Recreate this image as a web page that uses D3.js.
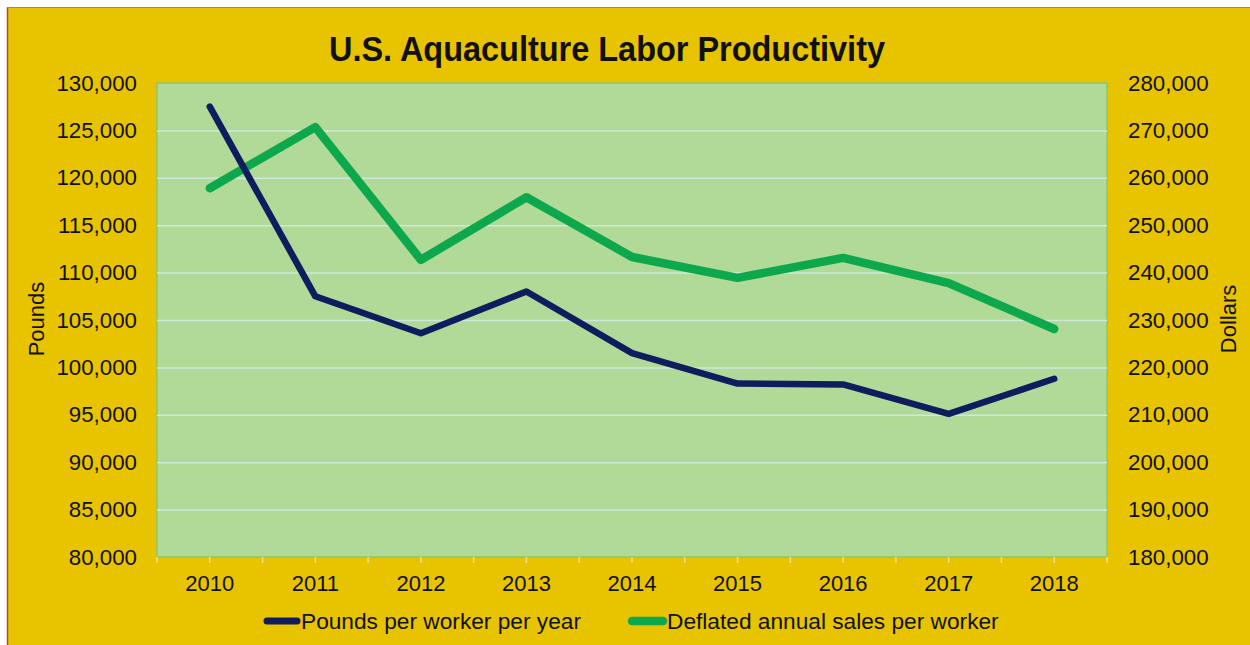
<!DOCTYPE html>
<html>
<head>
<meta charset="utf-8">
<script src="https://cdn.jsdelivr.net/npm/d3@7"></script>
<style>
  body { margin: 0; background: #ffffff; }
  text { font-family: 'Liberation Sans', Arial, sans-serif; fill: #111111; }
</style>
</head>
<body>
<div class="chart"></div>
<script>
// chart values
var years = ['2010', '2011', '2012', '2013', '2014', '2015', '2016', '2017', '2018']
var poundsPerWorker = [127500, 107500, 103600, 108000, 101500, 98300, 98200, 95100, 98800]
var salesPerWorker = [257800, 270700, 242700, 255900, 243300, 238900, 243100, 237800, 228100]
var poundsTicks = [80000, 85000, 90000, 95000, 100000, 105000, 110000, 115000, 120000, 125000, 130000]
var dollarTicks = [180000, 190000, 200000, 210000, 220000, 230000, 240000, 250000, 260000, 270000, 280000]
var seriesNames = ['Pounds per worker per year', 'Deflated annual sales per worker']

var fullWidth = 1250, fullHeight = 645
var margin = {top: 83, right: 143, bottom: 88, left: 157},
width = fullWidth - margin.left - margin.right,
height = fullHeight - margin.top - margin.bottom;

var navy = '#0f1d5e', green = '#0da84b'
var labelFont = "'Liberation Sans', Arial, sans-serif"

var root = d3.select('.chart')
  .append('svg')
    .attr('width', fullWidth)
    .attr('height', fullHeight)

// yellow background with the thin white strip and red edge of the original frame
root.append('rect').attr('x', 0).attr('y', 0).attr('width', fullWidth).attr('height', fullHeight).attr('fill', '#ffffff')
root.append('rect').attr('x', 7).attr('y', 7).attr('width', fullWidth - 7).attr('height', fullHeight - 7).attr('fill', '#e8c300')
root.append('line').attr('x1', 7.5).attr('x2', 7.5).attr('y1', 7).attr('y2', fullHeight).attr('stroke', '#c0442a').attr('stroke-width', 1.5)
root.append('line').attr('x1', 7).attr('x2', fullWidth).attr('y1', 7.5).attr('y2', 7.5).attr('stroke', '#d9782a').attr('stroke-width', 1)

var svg = root.append('g')
  .attr('transform', 'translate(' + margin.left + ',' + margin.top + ')');

var x = d3.scaleBand()
  .domain(years)
  .range([0, width])
  .paddingInner(0)
  .paddingOuter(0);

var yLeft = d3.scaleLinear()
  .domain([d3.min(poundsTicks), d3.max(poundsTicks)])
  .range([height, 0]);

var yRight = d3.scaleLinear()
  .domain([d3.min(dollarTicks), d3.max(dollarTicks)])
  .range([height, 0]);

// plot area
svg.append('rect')
  .attr('x', 0).attr('y', 0)
  .attr('width', width).attr('height', height)
  .attr('fill', '#b1d998')
  .attr('stroke', '#8cc66a')
  .attr('stroke-width', 1.5)

// gridlines
svg.append('g')
  .attr('class', 'grid')
  .call(d3.axisLeft(yLeft).tickValues(poundsTicks.slice(1, -1)).tickSize(-width).tickFormat(''))
  .call(g => g.select('.domain').remove())
  .call(g => g.selectAll('line').attr('stroke', '#cfe8dc').attr('stroke-width', 1.5))

// left axis
svg.append('g')
  .call(d3.axisLeft(yLeft).tickValues(poundsTicks).tickSize(0).tickPadding(20).tickFormat(d3.format(',')))
  .call(g => g.select('.domain').remove())
  .call(g => g.selectAll('text').style('font-size', '22.3px').style('font-family', labelFont).attr('fill', '#111'))

// right axis
svg.append('g')
  .attr('transform', 'translate(' + width + ',0)')
  .call(d3.axisRight(yRight).tickValues(dollarTicks).tickSize(0).tickPadding(21).tickFormat(d3.format(',')))
  .call(g => g.select('.domain').remove())
  .call(g => g.selectAll('text').style('font-size', '22.3px').style('font-family', labelFont).attr('fill', '#111'))

// bottom axis: labels at category centres, short pale ticks at centres and boundaries
svg.append('g')
  .attr('transform', 'translate(0,' + height + ')')
  .call(d3.axisBottom(x).tickSize(6).tickPadding(12))
  .call(g => g.select('.domain').remove())
  .call(g => g.selectAll('line').attr('stroke', '#f2e08a').attr('stroke-width', 1.5))
  .call(g => g.selectAll('text').style('font-size', '22px').style('font-family', labelFont).attr('fill', '#111'))

svg.append('g')
  .selectAll('line')
  .data(years.concat(['end']))
  .enter().append('line')
    .attr('x1', function(d) { return d == 'end' ? width : x(d) })
    .attr('x2', function(d) { return d == 'end' ? width : x(d) })
    .attr('y1', height)
    .attr('y2', height + 6)
    .attr('stroke', '#f2e08a')
    .attr('stroke-width', 1.5)

var cx = function(d, i) { return x(years[i]) + x.bandwidth() / 2 }

// the two lines
svg.append('path')
  .datum(salesPerWorker)
  .attr('fill', 'none')
  .attr('stroke', green)
  .attr('stroke-width', 8.5)
  .attr('stroke-linecap', 'round')
  .attr('stroke-linejoin', 'round')
  .attr('d', d3.line().x(cx).y(function(d) { return yRight(d) }))

svg.append('path')
  .datum(poundsPerWorker)
  .attr('fill', 'none')
  .attr('stroke', navy)
  .attr('stroke-width', 6.5)
  .attr('stroke-linecap', 'round')
  .attr('stroke-linejoin', 'round')
  .attr('d', d3.line().x(cx).y(function(d) { return yLeft(d) }))

// title
root.append('text')
  .attr('x', 607).attr('y', 61)
  .attr('text-anchor', 'middle')
  .attr('textLength', 556)
  .attr('lengthAdjust', 'spacingAndGlyphs')
  .style('font-size', '35px')
  .style('font-weight', 'bold')
  .text('U.S. Aquaculture Labor Productivity')

// axis titles
root.append('text')
  .attr('text-anchor', 'middle')
  .attr('transform', 'translate(44,319) rotate(-90)')
  .style('font-size', '22px')
  .text('Pounds')

root.append('text')
  .attr('text-anchor', 'middle')
  .attr('transform', 'translate(1236,319) rotate(-90)')
  .style('font-size', '22px')
  .text('Dollars')

// legend
var legend = root.append('g').attr('transform', 'translate(0,621)')
legend.append('line').attr('x1', 267).attr('x2', 297).attr('y1', 0).attr('y2', 0)
  .attr('stroke', navy).attr('stroke-width', 7).attr('stroke-linecap', 'round')
legend.append('text').attr('x', 301).attr('y', 0).attr('dominant-baseline', 'central')
  .style('font-size', '22.7px').text(seriesNames[0])
legend.append('line').attr('x1', 632).attr('x2', 663).attr('y1', 0).attr('y2', 0)
  .attr('stroke', green).attr('stroke-width', 8.5).attr('stroke-linecap', 'round')
legend.append('text').attr('x', 667).attr('y', 0).attr('dominant-baseline', 'central')
  .style('font-size', '22.7px').text(seriesNames[1])
</script>
</body>
</html>
